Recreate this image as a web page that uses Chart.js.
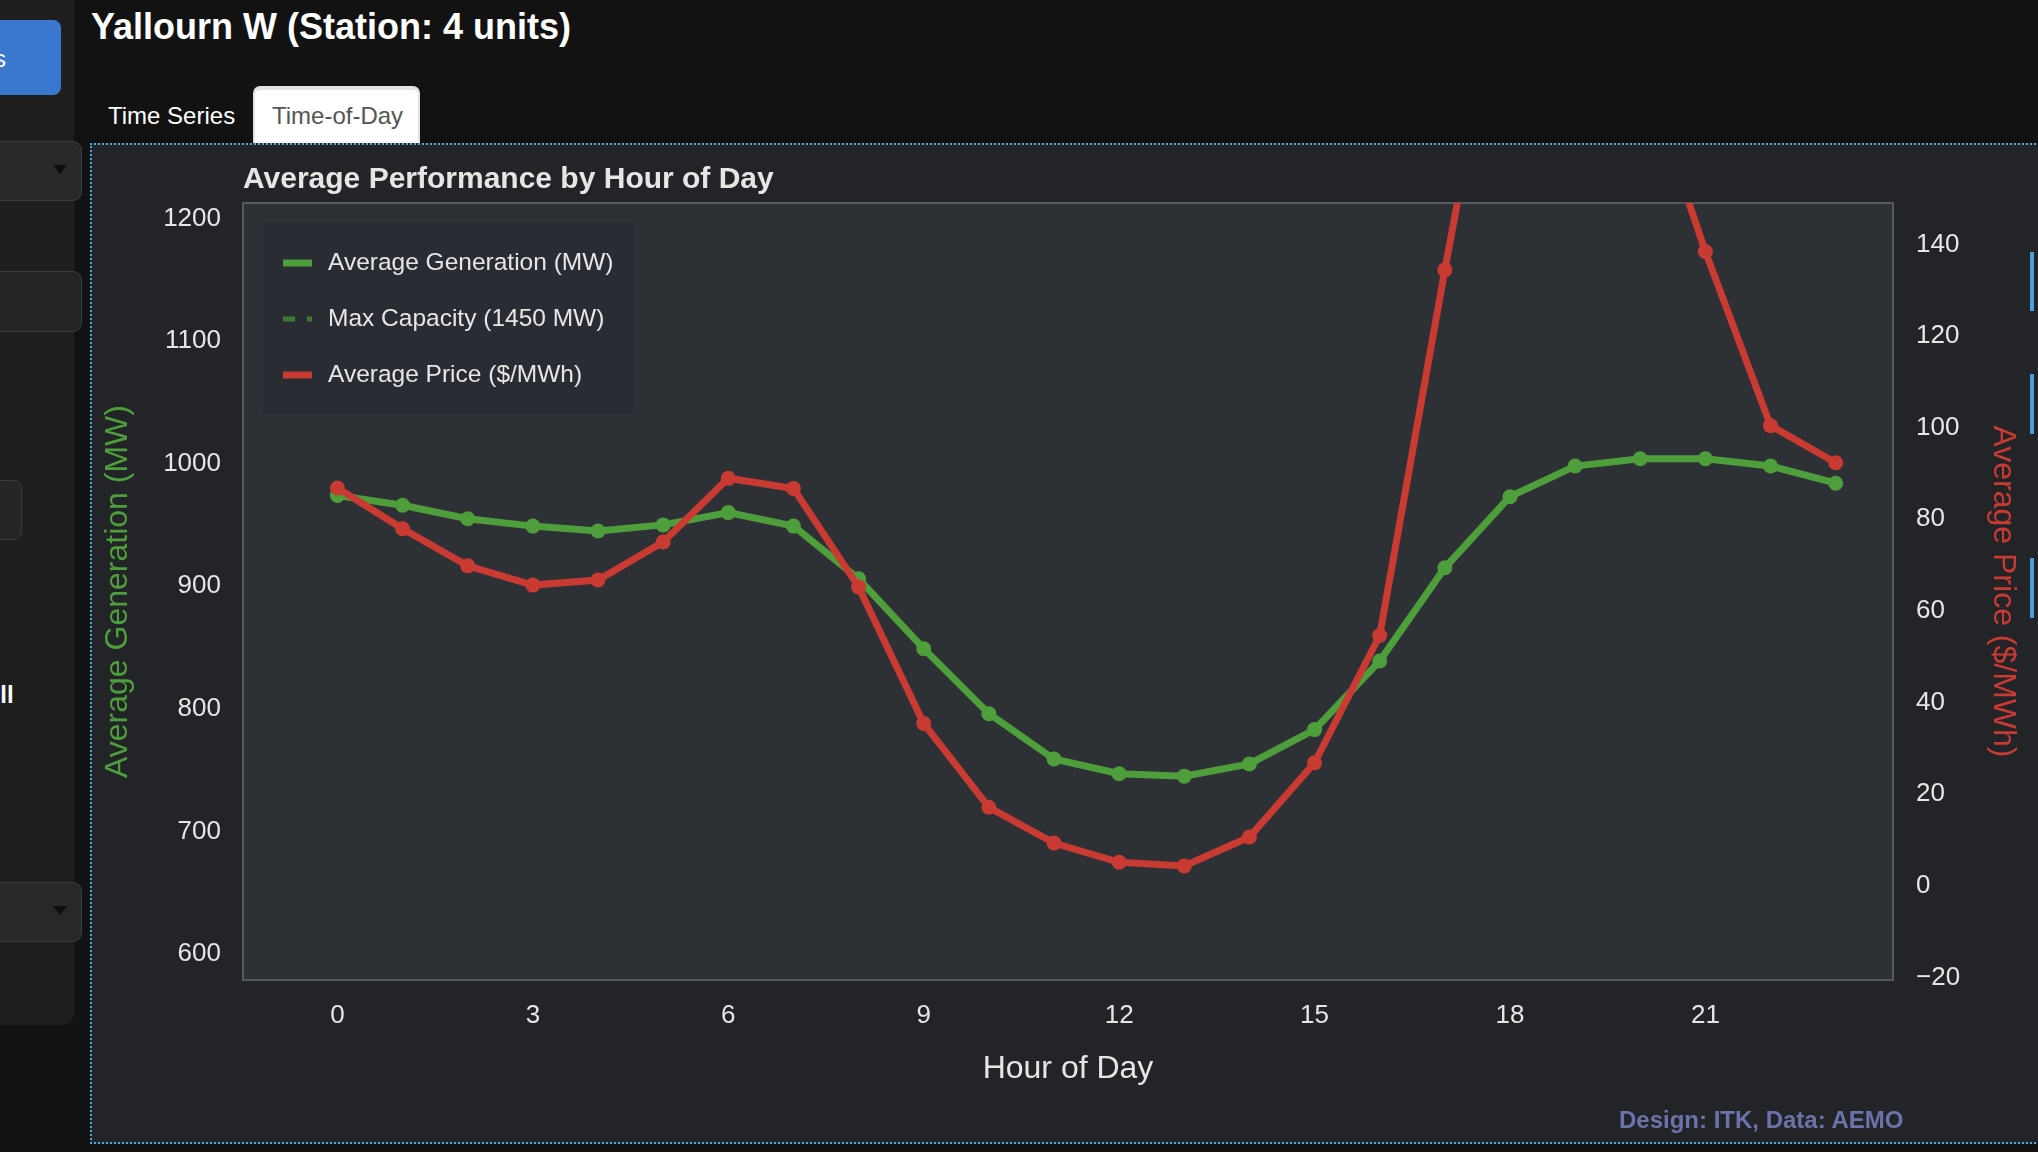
<!DOCTYPE html>
<html>
<head>
<meta charset="utf-8">
<script src="https://cdn.jsdelivr.net/npm/chart.js@4.4.1/dist/chart.umd.min.js"></script>
<style>
html,body{margin:0;padding:0;background:#121212;width:2038px;height:1152px;overflow:hidden;font-family:"Liberation Sans",Arial,Helvetica,sans-serif;}
.abs{position:absolute;}
#sidebar{left:0;top:0;width:74px;height:1025px;background:#1e1e1e;border-bottom-right-radius:12px;}
.btn{left:-20px;top:20px;width:81px;height:75px;background:#3a78cf;border-radius:8px;}
.ctl{background:#282828;border:1.5px solid #3c3c3c;border-radius:9px;box-sizing:border-box;}
.tri{width:0;height:0;border-left:7px solid transparent;border-right:7px solid transparent;border-top:9px solid #0d0d0d;}
.txt{white-space:nowrap;line-height:1;}
#title{left:91px;top:9px;font-size:36px;font-weight:bold;color:#fff;}
#tab1{left:108px;top:104px;font-size:24px;color:#fff;}
#tab2box{left:253px;top:86px;width:167px;height:57px;background:#fff;border-top:4px solid #e2e2e2;border-left:2px solid #e2e2e2;border-right:2px solid #e2e2e2;border-radius:7px 7px 0 0;box-sizing:border-box;}
#tab2{left:272px;top:104px;font-size:24px;color:#555;}
#panel{left:90px;top:143px;width:2010px;height:1001px;background:#222427;border:2px dotted #4ea6de;box-sizing:border-box;}
#c{position:absolute;left:92px;top:145px;width:1946px;height:997px;}
#credit{left:1619px;top:1108px;font-size:24px;font-weight:bold;color:#6b73aa;}
.bar{left:2030px;width:4px;background:#4a9fd8;}
</style>
</head>
<body>
<div id="sidebar" class="abs"></div>
<div class="abs btn"></div>
<div class="abs txt" style="left:-6px;top:47px;font-size:24px;color:#fff;">s</div>
<div class="abs ctl" style="left:-20px;top:141px;width:102px;height:60px;"></div>
<div class="abs tri" style="left:53px;top:165px;"></div>
<div class="abs ctl" style="left:-20px;top:271px;width:102px;height:61px;background:#232527;"></div>
<div class="abs ctl" style="left:-20px;top:480px;width:42px;height:60px;background:#232527;"></div>
<div class="abs txt" style="left:-17px;top:683px;font-size:24px;font-weight:bold;color:#fff;">All</div>
<div class="abs ctl" style="left:-20px;top:882px;width:102px;height:60px;"></div>
<div class="abs tri" style="left:53px;top:906px;"></div>

<div id="title" class="abs txt">Yallourn W (Station: 4 units)</div>
<div id="tab1" class="abs txt">Time Series</div>
<div id="tab2box" class="abs"></div>
<div id="tab2" class="abs txt">Time-of-Day</div>

<div id="panel" class="abs"></div>
<canvas id="c" width="1946" height="997"></canvas>
<div id="credit" class="abs txt">Design: ITK, Data: AEMO</div>

<div class="abs bar" style="top:252px;height:59px;"></div>
<div class="abs bar" style="top:374px;height:60px;"></div>
<div class="abs bar" style="top:558px;height:60px;"></div>

<script>
// ---- data ----
const hours = [0,1,2,3,4,5,6,7,8,9,10,11,12,13,14,15,16,17,18,19,20,21,22,23];
const avgGeneration = [972,964,953,947,943,948,958,947,904,847,794,757,745,743,753,781,837,913,971,996,1002,1002,996,982];
const maxCapacity = [1450,1450,1450,1450,1450,1450,1450,1450,1450,1450,1450,1450,1450,1450,1450,1450,1450,1450,1450,1450,1450,1450,1450,1450];
const avgPrice = [86.3,77.4,69.3,65.1,66.2,74.5,88.4,86.2,64.7,34.9,16.6,8.8,4.6,3.8,10.1,26.3,54.1,133.9,210,225,180,137.9,99.9,91.8];
const hourTicks = [0,3,6,9,12,15,18,21];
const genTicks = [600,700,800,900,1000,1100,1200];
const priceTicks = [-20,0,20,40,60,80,100,120,140];
const seriesLabels = ['Average Generation (MW)','Max Capacity (1450 MW)','Average Price ($/MWh)'];

const GREEN = '#4f9e3c', RED = '#c93a33', CAPGREEN = '#3e7a34', TXT = '#e6e6e6';
Chart.defaults.font.family = '"Liberation Sans", Arial, Helvetica, sans-serif';

const pts = arr => hours.map((h,i)=>({x:h,y:arr[i]}));
const fmt = v => (v < 0 ? '\u2212' + Math.abs(v) : String(v));

const plotBg = {
  id:'plotBg',
  beforeDatasetsDraw(chart){
    const {ctx, chartArea:a} = chart;
    ctx.save();
    ctx.fillStyle = '#2d3034';
    ctx.fillRect(a.left,a.top,a.width,a.height);
    ctx.strokeStyle = '#55585c';
    ctx.lineWidth = 2;
    ctx.strokeRect(a.left,a.top,a.width,a.height);
    ctx.restore();
  }
};

const legendBox = {
  id:'legendBox',
  afterDatasetsDraw(chart){
    const {ctx, chartArea:a} = chart;
    const x0 = a.left+20, y0 = a.top+20;
    ctx.save();
    ctx.fillStyle = '#292c33';
    ctx.beginPath();
    ctx.roundRect(x0,y0,371,190,3);
    ctx.fill();
    const rows = [60,116,172];
    chart.data.datasets.forEach((ds,i)=>{
      const cy = a.top + rows[i];
      ctx.strokeStyle = ds.borderColor;
      ctx.lineWidth = ds.borderDash ? 5 : 7;
      ctx.setLineDash(ds.borderDash ? [12,12] : []);
      ctx.beginPath();
      ctx.moveTo(a.left+40, cy);
      ctx.lineTo(a.left+69, cy);
      ctx.stroke();
      ctx.setLineDash([]);
      ctx.fillStyle = TXT;
      ctx.font = '24.5px "Liberation Sans", Arial, sans-serif';
      ctx.textBaseline = 'middle';
      ctx.textAlign = 'left';
      ctx.fillText(ds.label, a.left+85, cy);
    });
    ctx.restore();
  }
};

new Chart(document.getElementById('c'), {
  type:'line',
  data:{
    datasets:[
      {label:seriesLabels[0], data:pts(avgGeneration), yAxisID:'yGen', borderColor:GREEN, backgroundColor:GREEN,
       borderWidth:7, pointRadius:7.5, pointBorderWidth:0, pointHoverRadius:7.5, order:1, clip:0},
      {label:seriesLabels[1], data:pts(maxCapacity), yAxisID:'yGen', borderColor:CAPGREEN, backgroundColor:CAPGREEN,
       borderWidth:5, borderDash:[12,12], pointRadius:0, order:2, clip:0},
      {label:seriesLabels[2], data:pts(avgPrice), yAxisID:'yPrice', borderColor:RED, backgroundColor:RED,
       borderWidth:7, pointRadius:7.5, pointBorderWidth:0, pointHoverRadius:7.5, order:0, clip:0}
    ]
  },
  options:{
    responsive:false, animation:false, devicePixelRatio:1,
    layout:{padding:0},
    scales:{
      x:{type:'linear', position:'bottom', min:-1.45, max:23.88,
         grid:{display:false, drawTicks:false}, border:{display:false},
         ticks:{color:TXT, font:{size:26}, padding:20.5, callback:fmt},
         afterBuildTicks:s=>{ s.ticks = hourTicks.map(v=>({value:v})); },
         afterFit:s=>{ s.height = 162; },
         title:{display:true, text:'Hour of Day', color:TXT, font:{size:32}, padding:{top:0,bottom:53.5}}},
      yGen:{type:'linear', position:'left', min:576.7, max:1210.6,
         grid:{display:false, drawTicks:false}, border:{display:false},
         ticks:{color:TXT, font:{size:26}, padding:22, labelOffset:2.5, callback:fmt},
         afterBuildTicks:s=>{ s.ticks = genTicks.map(v=>({value:v})); },
         afterFit:s=>{ s.width = 151; },
         title:{display:true, text:'Average Generation (MW)', color:GREEN, font:{size:32}, padding:{top:7,bottom:0}}},
      yPrice:{type:'linear', position:'right', min:-21.1, max:148.5,
         grid:{display:false, drawTicks:false}, border:{display:false},
         ticks:{color:TXT, font:{size:26}, padding:23, labelOffset:2.5, callback:fmt},
         afterBuildTicks:s=>{ s.ticks = priceTicks.map(v=>({value:v})); },
         afterFit:s=>{ s.width = 145; },
         title:{display:true, text:'Average Price ($/MWh)', color:RED, font:{size:32}, padding:{top:16,bottom:0}}}
    },
    plugins:{
      legend:{display:false},
      tooltip:{enabled:false},
      title:{display:true, text:'Average Performance by Hour of Day', align:'start', fullSize:false,
             color:TXT, font:{size:30, weight:'bold'}, padding:{top:16.5,bottom:5.5}}
    }
  },
  plugins:[plotBg, legendBox]
});
</script>
</body>
</html>
